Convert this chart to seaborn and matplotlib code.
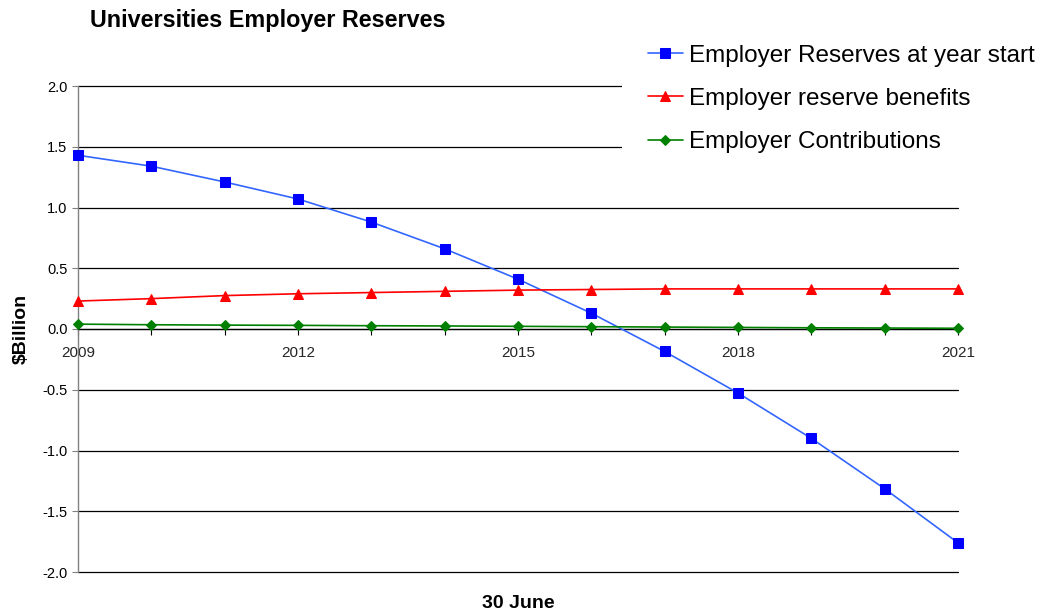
import matplotlib
matplotlib.use("Agg")
import matplotlib.pyplot as plt
import seaborn as sns
import pandas as pd

years = [2009, 2010, 2011, 2012, 2013, 2014, 2015, 2016, 2017, 2018, 2019, 2020, 2021]
reserves = [1.43, 1.34, 1.21, 1.07, 0.88, 0.66, 0.41, 0.13, -0.185, -0.527, -0.90, -1.315, -1.76]
benefits = [0.23, 0.25, 0.275, 0.29, 0.30, 0.31, 0.32, 0.325, 0.33, 0.33, 0.33, 0.33, 0.33]
contributions = [0.04, 0.035, 0.032, 0.03, 0.027, 0.025, 0.022, 0.019, 0.016, 0.013, 0.01, 0.008, 0.006]
series_names = ["Employer Reserves at year start", "Employer reserve benefits", "Employer Contributions"]
x_tick_labels = ["2009", "", "", "2012", "", "", "2015", "", "", "2018", "", "", "2021"]
y_ticks = [-2.0, -1.5, -1.0, -0.5, 0.0, 0.5, 1.0, 1.5, 2.0]

sns.set_theme(style="white")
plt.rcParams["font.family"] = ["Liberation Sans", "DejaVu Sans"]
plt.rcParams["axes.unicode_minus"] = False
plt.rcParams["text.color"] = "black"
plt.rcParams["axes.labelcolor"] = "black"

df = pd.DataFrame({"year": years, "r": reserves, "b": benefits, "c": contributions})

fig = plt.figure(figsize=(10.44, 6.14), dpi=100)
ax = fig.add_axes([78 / 1044, 1 - 572 / 614, 880 / 1044, 486 / 614])

# gridlines
for yv in y_ticks:
    ax.axhline(yv, color="#000000", lw=0.9, zorder=0, clip_on=False)

styles = [
    (df["r"], "#3366FF", "#0000FF", "s", 7.5),
    (df["b"], "#FF0000", "#FF0000", "^", 7.5),
    (df["c"], "#008000", "#008000", "D", 5.5),
]
for (vals, lc, mc, mk, ms), name in zip(styles, series_names):
    sns.lineplot(x=df["year"], y=vals, ax=ax, color=lc, lw=1.2, marker=mk,
                 markersize=ms, markerfacecolor=mc, markeredgecolor=mc,
                 label=name, legend=False, zorder=3, clip_on=False)

ax.set_xlim(2009, 2021)
ax.set_ylim(-2.0, 2.0)
ax.set_yticks(y_ticks)
ax.set_yticklabels([f"{v:.1f}" for v in y_ticks], fontsize=10.5, color="black")
ax.set_xticks(years)
ax.set_xticklabels(x_tick_labels, fontsize=10.5, color="black")

for s in ["top", "right"]:
    ax.spines[s].set_visible(False)
ax.spines["bottom"].set_position(("data", 0))
ax.spines["bottom"].set_color("#000000")
ax.spines["bottom"].set_linewidth(0.9)
ax.spines["left"].set_color("#808080")
ax.spines["left"].set_linewidth(1.0)
ax.tick_params(axis="y", which="both", left=True, length=4.5, width=0.8, color="#808080", pad=3)
ax.tick_params(axis="x", which="both", bottom=True, length=4, width=0.8, color="#000000", pad=8)

ax.set_xlabel("30 June", fontsize=14, fontweight="bold", labelpad=0)
ax.xaxis.set_label_coords(0.5, -(603 - 572) / 486)
ax.xaxis.label.set_va("center")
ax.set_ylabel(r"\$Billion", fontsize=14, fontweight="bold")
ax.yaxis.set_label_coords(-(78 - 21.5) / 880, 0.5)
ax.yaxis.label.set_va("center")

fig.text(90 / 1044, 1 - 21 / 614, "Universities Employer Reserves", fontsize=16.8,
         fontweight="bold", ha="left", va="center")

handles, labels = ax.get_legend_handles_labels()
leg = fig.legend(handles, labels, loc="upper left", bbox_to_anchor=(622 / 1044, 1 - 19 / 614),
                 fontsize=17.5, frameon=True, facecolor="white", edgecolor="none",
                 handlelength=1.45, handletextpad=0.25, labelspacing=0.88,
                 borderpad=1.05, borderaxespad=0, fancybox=False, framealpha=1)

fig.savefig("out.png", dpi=100, facecolor="white")
